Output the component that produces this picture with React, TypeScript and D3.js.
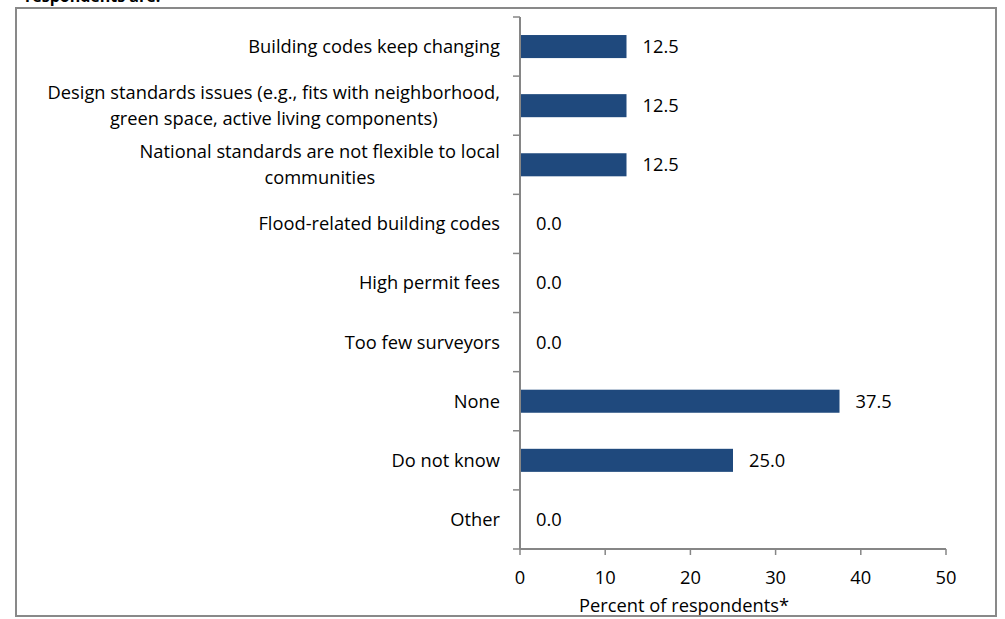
import React, { useRef, useEffect } from 'react';
import * as d3 from 'd3';

const categories = [
  'Building codes keep changing',
  'Design standards issues (e.g., fits with neighborhood,|green space, active living components)',
  'National standards are not flexible to local|communities',
  'Flood-related building codes',
  'High permit fees',
  'Too few surveyors',
  'None',
  'Do not know',
  'Other',
];
const values = [12.5, 12.5, 12.5, 0.0, 0.0, 0.0, 37.5, 25.0, 0.0];
const xTicks = [0, 10, 20, 30, 40, 50];
const axisTitle = 'Percent of respondents*';
const topFragment = 'respondents are:';

const W = 1005;
const H = 619;
const FONT = '"Open Sans", Lato, sans-serif';
const FS = 18.3;

const App = () => {
  const Svg = useRef<SVGSVGElement>(null);

  useEffect(() => {
    const svg = d3.select(Svg.current);
    svg.selectAll('*').remove();

    const x0 = 520;
    const x1 = 946;
    const yTop = 17;
    const yBot = 549;
    const axisColor = '#868686';

    const xScale = d3.scaleLinear().domain([0, 50]).range([x0, x1]);
    const yScale = d3
      .scaleBand()
      .domain(categories)
      .range([yTop, yBot])
      .paddingInner(0.61)
      .paddingOuter(0.305);

    svg.append('rect').attr('width', W).attr('height', H).attr('fill', '#fff');

    // cut-off title fragment at the very top
    svg
      .append('text')
      .attr('x', 25)
      .attr('y', 2)
      .attr('font-family', FONT)
      .attr('font-weight', 'bold')
      .attr('font-size', 16)
      .attr('fill', '#000')
      .text(topFragment);

    svg
      .append('defs')
      .append('clipPath')
      .attr('id', 'inner')
      .append('rect')
      .attr('x', 16)
      .attr('y', 8)
      .attr('width', 980)
      .attr('height', 608);

    const g = svg.append('g').attr('clip-path', 'url(#inner)');

    // bars
    g.selectAll('rect.bar')
      .data(values)
      .enter()
      .append('rect')
      .attr('class', 'bar')
      .attr('x', xScale(0))
      .attr('y', (d, i) => yScale(categories[i]))
      .attr('width', (d) => xScale(d) - xScale(0))
      .attr('height', yScale.bandwidth())
      .attr('fill', '#1F497D');

    // value labels
    g.selectAll('text.val')
      .data(values)
      .enter()
      .append('text')
      .attr('class', 'val')
      .attr('x', (d) => xScale(d) + 16)
      .attr('y', (d, i) => yScale(categories[i]) + yScale.bandwidth() / 2)
      .attr('dy', '0.35em')
      .attr('font-family', FONT)
      .attr('font-size', FS)
      .attr('fill', '#000')
      .text((d) => d.toFixed(1));

    // y axis
    const yAxisG = g.append('g');
    yAxisG
      .append('line')
      .attr('x1', x0)
      .attr('x2', x0)
      .attr('y1', yTop)
      .attr('y2', yBot)
      .attr('stroke', axisColor)
      .attr('stroke-width', 2);
    const step = yScale.step();
    d3.range(categories.length + 1).forEach((i) => {
      const y = yTop + i * step;
      yAxisG
        .append('line')
        .attr('x1', x0 - 7)
        .attr('x2', x0)
        .attr('y1', y)
        .attr('y2', y)
        .attr('stroke', axisColor)
        .attr('stroke-width', 1.5);
    });

    // category labels
    categories.forEach((c, i) => {
      const lines = c.split('|');
      const cy = yTop + (i + 0.5) * step;
      const lh = 26;
      const t = g
        .append('text')
        .attr('font-family', FONT)
        .attr('font-size', FS)
        .attr('fill', '#000');
      const spans = lines.map((l, j) =>
        t
          .append('tspan')
          .attr('y', cy + (j - (lines.length - 1) / 2) * lh)
          .attr('dy', '0.35em')
          .text(l)
      );
      const widths = spans.map((s) => (s.node() as SVGTSpanElement).getComputedTextLength());
      const maxW = d3.max(widths) || 0;
      const cx = 500 - maxW / 2;
      spans.forEach((s) => s.attr('x', cx).attr('text-anchor', 'middle'));
    });

    // x axis
    const xAxisG = g.append('g');
    xAxisG
      .append('line')
      .attr('x1', x0)
      .attr('x2', x1)
      .attr('y1', yBot)
      .attr('y2', yBot)
      .attr('stroke', axisColor)
      .attr('stroke-width', 2);
    xTicks.forEach((t) => {
      xAxisG
        .append('line')
        .attr('x1', xScale(t))
        .attr('x2', xScale(t))
        .attr('y1', yBot)
        .attr('y2', yBot + 6)
        .attr('stroke', axisColor)
        .attr('stroke-width', 1.5);
      xAxisG
        .append('text')
        .attr('x', xScale(t))
        .attr('y', 578)
        .attr('dy', '0.35em')
        .attr('text-anchor', 'middle')
        .attr('font-family', FONT)
        .attr('font-size', FS)
        .attr('fill', '#000')
        .text(t);
    });

    g.append('text')
      .attr('x', 684)
      .attr('y', 612)
      .attr('text-anchor', 'middle')
      .attr('font-family', FONT)
      .attr('font-size', FS)
      .attr('fill', '#000')
      .text(axisTitle);

    // frame
    svg
      .append('rect')
      .attr('x', 16)
      .attr('y', 8)
      .attr('width', 980)
      .attr('height', 608)
      .attr('fill', 'none')
      .attr('stroke', '#898989')
      .attr('stroke-width', 2);
  }, []);

  return (
    <svg
      ref={Svg}
      width={W}
      height={H}
      style={{ position: 'absolute', left: 0, top: 0, display: 'block' }}
    />
  );
};

export default App;
